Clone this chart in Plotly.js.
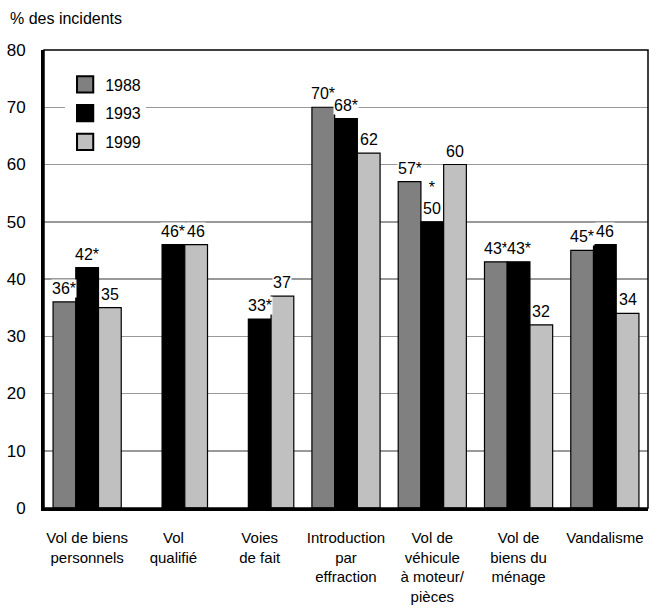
<!DOCTYPE html>
<html>
<head>
<meta charset="utf-8">
<script src="https://cdn.plot.ly/plotly-3.0.1.min.js"></script>
<style>html,body{margin:0;padding:0;background:#fff;}#chart{width:658px;height:610px;}</style>
</head>
<body>
<div id="chart"></div>
<script>
const categories = [
  "Vol de biens<br>personnels",
  "Vol<br>qualifié",
  "Voies<br>de fait",
  "Introduction<br>par<br>effraction",
  "Vol de<br>véhicule<br>à moteur/<br>pièces",
  "Vol de<br>biens du<br>ménage",
  "Vandalisme"
];
const seriesNames = ["1988", "1993", "1999"];
const values1988 = [36, null, null, 70, 57, 43, 45];
const values1993 = [42, 46, 33, 68, 50, 43, 46];
const values1999 = [35, 46, 37, 62, 60, 32, 34];
const labels1988 = ["36*", null, null, "70*", "57*", "43*", "45*"];
const labels1993 = ["42*", "46*", "33*", "68*", "*<br>50", "43*", "46"];
const labels1999 = ["35", "46", "37", "62", "60", "32", "34"];
const yTicks = [0, 10, 20, 30, 40, 50, 60, 70, 80];
const yTitle = "% des incidents";

const FONT = '"Liberation Sans", Arial, Helvetica, sans-serif';
const colors = ["#808080", "#000000", "#c0c0c0"];
const allValues = [values1988, values1993, values1999];
const allLabels = [labels1988, labels1993, labels1999];
const bargap = 0.21;
const barW = (1 - bargap) / 3;

const traces = allValues.map((vals, j) => ({
  type: "bar",
  name: seriesNames[j],
  x: categories,
  y: vals,
  legendgroup: "g" + j,
  marker: {color: colors[j], line: {color: "#000", width: 1.2}},
  hoverinfo: "skip"
}));

const annotations = [];
allLabels.forEach((labs, j) => {
  labs.forEach((t, i) => {
    if (t === null) return;
    annotations.push({
      xref: "x", yref: "y",
      x: i + (j - 1) * barW,
      y: allValues[j][i],
      text: t,
      showarrow: false,
      xanchor: "center", yanchor: "bottom",
      yshift: 4,
      bgcolor: "#ffffff",
      borderpad: 0,
      font: {family: FONT, size: 16, color: "#000"}
    });
  });
});

const layout = {
  width: 658, height: 610,
  margin: {l: 44, r: 10, t: 50, b: 102},
  paper_bgcolor: "#fff", plot_bgcolor: "#fff",
  font: {family: FONT, size: 16, color: "#000"},
  title: {text: yTitle, x: 10/658, xanchor: "left", y: 1 - 18/610, yanchor: "middle",
          font: {family: FONT, size: 16, color: "#000"}},
  barmode: "group",
  bargap: bargap,
  bargroupgap: 0,
  showlegend: true,
  legend: {x: 0.035, y: 0.962, xanchor: "left", yanchor: "top",
           bgcolor: "#fff", traceorder: "grouped", tracegroupgap: 5,
           font: {family: FONT, size: 16, color: "#000"}},
  xaxis: {
    type: "category",
    range: [-0.5, 6.5],
    showline: true, linecolor: "#000", linewidth: 3,
    ticks: "", showgrid: false, zeroline: false,
    ticklabelstandoff: 14,
    tickfont: {family: FONT, size: 15, color: "#000"},
    fixedrange: true
  },
  yaxis: {
    range: [0, 80],
    tickvals: yTicks,
    showline: true, linecolor: "#000", linewidth: 3,
    ticks: "", showgrid: true, gridcolor: "#999", gridwidth: 1.5,
    zeroline: false,
    ticklabelstandoff: 12,
    tickfont: {family: FONT, size: 17, color: "#000"},
    fixedrange: true
  },
  shapes: [{type: "rect", xref: "paper", yref: "paper", x0: 0, x1: 1, y0: 0, y1: 1,
            line: {color: "#000", width: 1.5}, layer: "above"}],
  annotations: annotations
};

Plotly.newPlot("chart", traces, layout, {displayModeBar: false, staticPlot: true}).then(() => {
  document.querySelectorAll("#chart .legend .legendpoints path").forEach(p => {
    const t = p.getAttribute("transform") || "";
    p.setAttribute("transform", t + " scale(1.35)");
    p.style.strokeWidth = "1.5px";
  });
});
</script>
</body>
</html>
